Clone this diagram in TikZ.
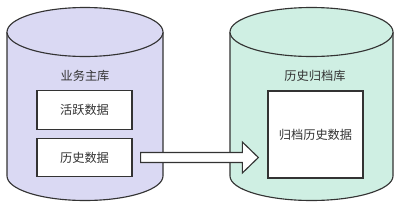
\documentclass[tikz,border=0pt]{standalone}
\usepackage{fontspec}
\newfontfamily\cjk{Noto Sans CJK SC}
\usetikzlibrary{calc}
\definecolor{lineink}{HTML}{333333}
\definecolor{dbmain}{HTML}{DAD9F3}
\definecolor{dbarch}{HTML}{CFEFE3}
\tikzset{
  dbody/.style={fill=#1, draw=lineink, line width=0.8pt},
  lbl/.style={font=\cjk\fontsize{8.7}{10}\selectfont, text=lineink},
  card/.style={fill=white, draw=lineink, line width=0.9pt, inner sep=0pt,
               font=\cjk\fontsize{8.7}{10}\selectfont, text=lineink},
  flow/.style={fill=white, draw=lineink, line width=0.8pt, line join=miter},
}

\begin{document}
\begin{tikzpicture}[x=0.25mm, y=-0.25mm]
  \useasboundingbox (0,0) rectangle (400,208);
  % business database
  \draw[dbody=dbmain] (7,32) -- (7,176) arc[start angle=180, end angle=0, x radius=78, y radius=24.5] -- (163,32);
  \draw[dbody=dbmain] (85,32) ellipse [x radius=78, y radius=24.5];
  % archive database
  \draw[dbody=dbarch] (230,32) -- (230,176) arc[start angle=180, end angle=0, x radius=81.5, y radius=24.5] -- (393,32);
  \draw[dbody=dbarch] (311.5,32) ellipse [x radius=81.5, y radius=24.5];

  \node[lbl] (mainlbl) at (85,76) {业务主库};
  \node[card, minimum width=23.75mm, minimum height=9.6mm] (active) at (84.5,110) {活跃数据};
  \node[card, minimum width=23.75mm, minimum height=9.6mm] (hist) at (84.5,157.5) {历史数据};

  \node[lbl] (archlbl) at (315,76) {历史归档库};
  \node[card, minimum width=23.75mm, minimum height=21.75mm] (arch) at (315.5,134.5) {归档历史数据};

  % move
  \coordinate (tail) at ($(hist.east)+(8,0)$);
  \coordinate (tip) at ($(arch.west |- hist.east)+(-9,0)$);
  \draw[flow] ($(tail)+(0,-5)$) -- ($(tip)+(-16,-5)$) -- ($(tip)+(-16,-15.5)$) -- (tip)
    -- ($(tip)+(-16,15.5)$) -- ($(tip)+(-16,5)$) -- ($(tail)+(0,5)$) -- cycle;
\end{tikzpicture}
\end{document}
